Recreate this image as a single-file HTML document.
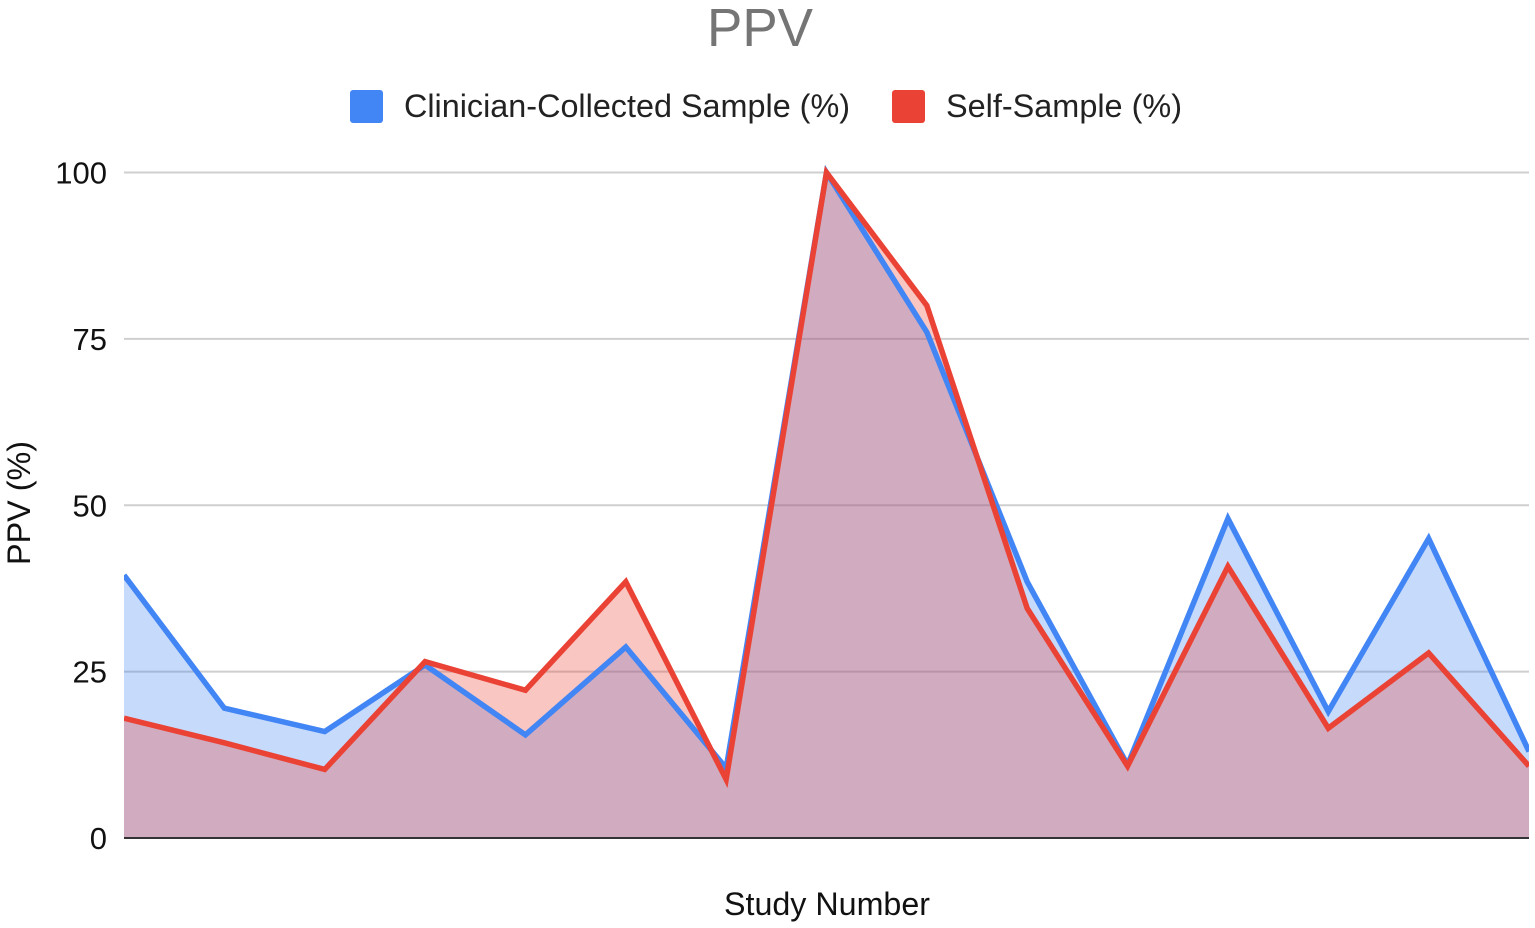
<!DOCTYPE html>
<html lang="en">
<head>
<meta charset="utf-8">
<title>PPV</title>
<style>
html,body{margin:0;padding:0;background:#fff;width:1535px;height:928px;overflow:hidden}
svg{display:block;font-family:"Liberation Sans",sans-serif}
</style>
</head>
<body>
<svg id="chart" width="1535" height="928" viewBox="0 0 1535 928">
  <defs>
    <clipPath id="plot-clip"><rect x="124" y="150" width="1405" height="688"/></clipPath>
  </defs>
  <text x="760" y="46" text-anchor="middle" font-size="54" fill="#757575" textLength="106" lengthAdjust="spacingAndGlyphs">PPV</text>
  <g>
    <g>
      <rect x="350" y="90" width="33" height="33" rx="3" fill="#4285f4"/>
      <text x="404" y="117" font-size="32" fill="#222" textLength="446" lengthAdjust="spacingAndGlyphs">Clinician-Collected Sample (%)</text>
    </g>
    <g>
      <rect x="892" y="90" width="33" height="33" rx="3" fill="#ea4335"/>
      <text x="946" y="117" font-size="32" fill="#222" textLength="236" lengthAdjust="spacingAndGlyphs">Self-Sample (%)</text>
    </g>
  </g>
  <g id="grid"></g>
  <g id="yticks"></g>
  <g id="areas"></g>
  <g id="lines" clip-path="url(#plot-clip)"></g>
  <line x1="124" y1="838" x2="1529" y2="838" stroke="#333" stroke-width="2"/>
  <text x="827" y="915" text-anchor="middle" font-size="32" fill="#111" textLength="206" lengthAdjust="spacingAndGlyphs">Study Number</text>
  <text transform="translate(30 503) rotate(-90)" text-anchor="middle" font-size="32" fill="#111" textLength="124" lengthAdjust="spacingAndGlyphs">PPV (%)</text>
</svg>
<script>
const studies = [1, 2, 3, 4, 5, 6, 7, 8, 9, 10, 11, 12, 13, 14, 15];
const clinicianValues = [39.5, 19.5, 16, 26, 15.5, 28.7, 10.5, 100, 76, 38.5, 11, 48, 19, 45, 13];
const selfValues = [18, 14.3, 10.3, 26.5, 22.2, 38.5, 8.8, 100, 80, 34.5, 10.8, 40.8, 16.5, 27.8, 10.8];
const yTicks = [0, 25, 50, 75, 100];

const NS = 'http://www.w3.org/2000/svg';
const plot = { left: 124, right: 1529, top: 172.5, bottom: 838 };
function xScale(i) {
  return plot.left + i * (plot.right - plot.left) / (studies.length - 1);
}
function yScale(v) {
  return plot.bottom - (v / 100) * (plot.bottom - plot.top);
}
function make(tag, attrs, parent) {
  const el = document.createElementNS(NS, tag);
  for (const k in attrs) el.setAttribute(k, attrs[k]);
  parent.appendChild(el);
  return el;
}
const gridG = document.getElementById('grid');
const tickG = document.getElementById('yticks');
yTicks.forEach(function (t) {
  if (t !== 0) {
    const line = make('line', { x1: plot.left, x2: plot.right, y1: yScale(t), y2: yScale(t), stroke: '#cfcfcf', 'stroke-width': 2 }, gridG);
    
    
  }
  const label = make('text', { x: 107, y: yScale(t) + 11, 'text-anchor': 'end', 'font-size': 31, fill: '#111' }, tickG);
  label.textContent = String(t);
  
  
});
const areaG = document.getElementById('areas');
const lineG = document.getElementById('lines');
function drawSeries(name, values, color) {
  const pts = values.map(function (v, i) { return xScale(i) + ',' + yScale(v); });
  const area = make('polygon', {
    points: plot.left + ',' + plot.bottom + ' ' + pts.join(' ') + ' ' + plot.right + ',' + plot.bottom,
    fill: color, 'fill-opacity': 0.3
  }, areaG);
  
  
  const line = make('polyline', {
    points: pts.join(' '), fill: 'none', stroke: color, 'stroke-width': 5.5, 'stroke-linejoin': 'miter'
  }, lineG);
  
  
}
drawSeries('clinician', clinicianValues, '#4285f4');
drawSeries('self', selfValues, '#ea4335');
</script>
</body>
</html>
